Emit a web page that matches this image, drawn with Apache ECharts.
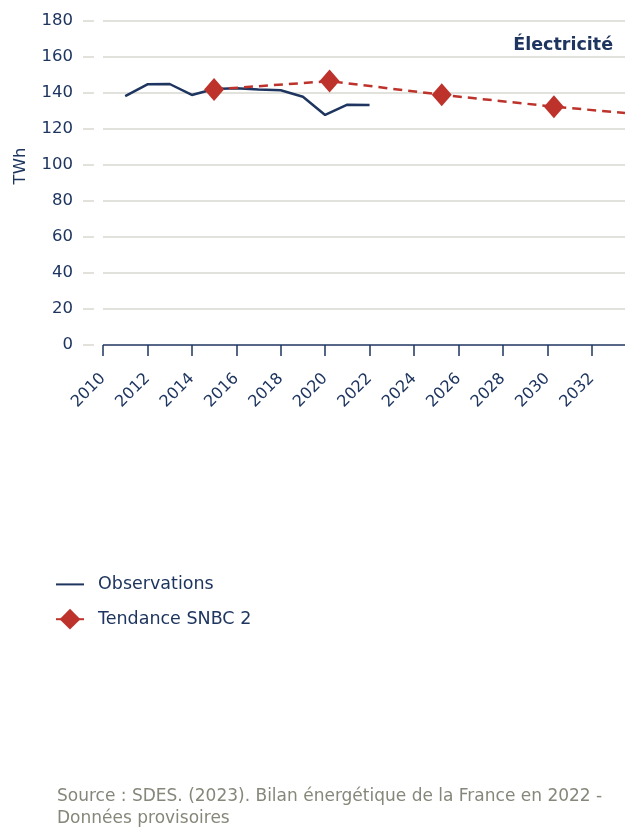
<!DOCTYPE html>
<html>
<head>
<meta charset="utf-8">
<script src="https://cdn.jsdelivr.net/npm/echarts@6/dist/echarts.min.js"></script>
<style>
  html, body { margin: 0; padding: 0; background: #ffffff; }
  #chart { width: 629px; height: 827px; }
</style>
</head>
<body>
<div id="chart"></div>
<script>
// Consommation d'électricité (TWh) : observations et trajectoire SNBC 2
const obsYears = [2011, 2012, 2013, 2014, 2015, 2016, 2017, 2018, 2019, 2020, 2021, 2022];
const obsValues = [138.3, 144.8, 145.0, 138.9, 142.2, 142.6, 142.0, 141.5, 137.9, 127.8, 133.5, 133.3];

const snbcYears = [2015, 2020.2, 2025.25, 2030.3, 2033.5];
const snbcValues = [142.0, 146.6, 139.0, 132.4, 128.9];
const snbcMarked = [true, true, true, true, false];

const yTicks = { min: 0, max: 180, step: 20 };
const xTicks = { min: 2010, max: 2033.5, step: 2 };

const navy = '#1e3560';
const red = '#bd332c';
const grey = '#d9d8d1';
const font = 'DejaVu Sans';

const chart = echarts.init(document.getElementById('chart'), null, { renderer: 'canvas' });

chart.setOption({
  animation: false,
  backgroundColor: '#ffffff',
  textStyle: { fontFamily: font },
  title: {
    text: 'Électricité',
    right: 11,
    top: 31,
    textStyle: { fontFamily: font, fontSize: 17.5, fontWeight: 'bold', color: navy }
  },
  grid: { left: 103, right: 4, top: 21, bottom: 482 },
  xAxis: {
    type: 'value',
    min: xTicks.min,
    max: xTicks.max,
    interval: xTicks.step,
    offset: 7,
    axisLine: { show: false },
    axisTick: { show: true, length: 11, lineStyle: { color: navy, width: 1.5 } },
    splitLine: { show: false },
    axisLabel: {
      rotate: 45,
      margin: 24,
      color: navy,
      fontSize: 16,
      fontFamily: font,
      showMaxLabel: false,
      formatter: v => String(v)
    }
  },
  yAxis: {
    type: 'value',
    min: yTicks.min,
    max: yTicks.max,
    interval: yTicks.step,
    offset: 9,
    axisLine: { show: false },
    axisTick: { show: true, length: 11, lineStyle: { color: grey, width: 1.5 } },
    axisLabel: { margin: 21, color: navy, fontSize: 16.5, fontFamily: font },
    splitLine: {
      show: true,
      lineStyle: { color: [navy, grey, grey, grey, grey, grey, grey, grey, grey, grey], width: 1.5 }
    }
  },
  legend: {
    orient: 'vertical',
    left: 55,
    top: 574,
    padding: 0,
    itemWidth: 28,
    itemHeight: 26,
    itemGap: 14,
    textStyle: { color: navy, fontSize: 17.5, fontFamily: font, padding: [0, 0, 0, 9] },
    lineStyle: { type: 'solid' },
    data: [
      { name: 'Observations', itemStyle: { color: 'rgba(0,0,0,0)', borderWidth: 0 } },
      'Tendance SNBC 2'
    ]
  },
  graphic: [
    {
      type: 'text',
      x: 21,
      y: 166,
      rotation: Math.PI / 2,
      style: {
        text: 'TWh',
        fill: navy,
        font: '16.5px ' + font,
        textAlign: 'center',
        textVerticalAlign: 'middle'
      }
    },
    {
      type: 'text',
      left: 57,
      top: 786,
      style: {
        text: 'Source : SDES. (2023). Bilan énergétique de la France en 2022 -\nDonnées provisoires',
        fill: '#87867a',
        font: '17px ' + font,
        lineHeight: 22
      }
    }
  ],
  series: [
    {
      name: 'Observations',
      type: 'line',
      symbol: 'none',
      data: obsYears.map((y, i) => [y, obsValues[i]]),
      lineStyle: { color: navy, width: 2.5 },
      itemStyle: { color: navy },
      z: 3
    },
    {
      name: 'Tendance SNBC 2',
      type: 'line',
      symbol: 'diamond',
      symbolSize: [20, 23],
      data: snbcYears.map((y, i) => ({
        value: [y, snbcValues[i]],
        symbol: snbcMarked[i] ? 'diamond' : 'none'
      })),
      lineStyle: { color: red, width: 2.5, type: [9, 6] },
      itemStyle: { color: red },
      z: 4
    }
  ]
});
</script>
</body>
</html>
